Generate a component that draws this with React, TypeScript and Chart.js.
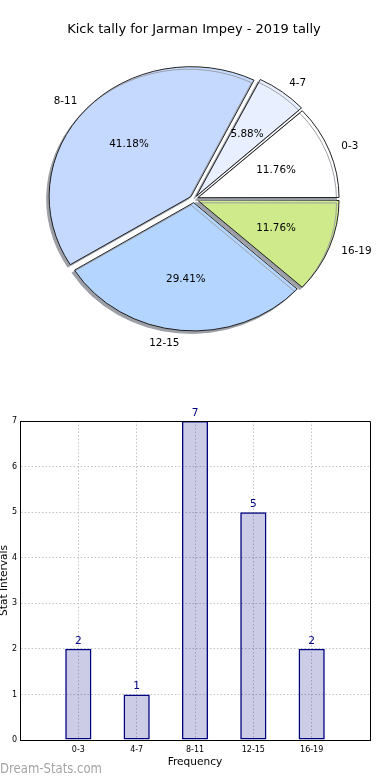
import { useEffect, useRef } from 'react';
import { Chart, registerables } from 'chart.js';

Chart.register(...registerables);

const chartTitle = 'Kick tally for Jarman Impey - 2019 tally';
const categories = ['0-3', '4-7', '8-11', '12-15', '16-19'];
const frequencies = [2, 1, 7, 5, 2];
const sliceColors = ['#ffffff', '#e8f0ff', '#c5d9ff', '#b4d5ff', '#cfea8b'];
const yTickValues = [0, 1, 2, 3, 4, 5, 6, 7];
const xAxisTitle = 'Frequency';
const yAxisTitle = 'Stat Intervals';
const watermark = 'Dream-Stats.com';

const FONT = "'DejaVu Sans', 'Liberation Sans', sans-serif";
const SY = 0.915; // vertical squash of the pie (ellipse like the source)
const EXPLODE = 16; // chart.js arc offset (drawn as offset / 4 px)

// pie drawn clockwise in Chart.js; reverse so it reads counter-clockwise from 3 o'clock
const pieOrder = categories.map((_, i) => categories.length - 1 - i);
const pieLabels = pieOrder.map((i) => categories[i]);
const pieValues = pieOrder.map((i) => frequencies[i]);
const pieColors = pieOrder.map((i) => sliceColors[i]);

const alignPx = (p: number, w = 1) => Math.round(p - w / 2) + w / 2;

const piePlugin = {
  id: 'pieDecor',
  beforeDatasetsDraw(chart: any) {
    const ctx = chart.ctx;
    const el = chart.getDatasetMeta(0).data[0];
    ctx.save();
    ctx.translate(el.x, el.y);
    ctx.scale(1, SY);
    ctx.translate(-el.x, -el.y);
    ctx.shadowColor = '#9c9fa6';
    ctx.shadowOffsetX = -2.5;
    ctx.shadowOffsetY = 2.5;
    ctx.shadowBlur = 0;
  },
  afterDatasetsDraw(chart: any) {
    const ctx = chart.ctx;
    ctx.restore();
    const meta = chart.getDatasetMeta(0);
    const total = pieValues.reduce((a, b) => a + b, 0);
    ctx.save();
    ctx.font = `10.4px ${FONT}`;
    ctx.fillStyle = '#000';
    ctx.textBaseline = 'middle';
    meta.data.forEach((el: any, i: number) => {
      const { x, y, startAngle, endAngle, outerRadius } = el.getProps(
        ['x', 'y', 'startAngle', 'endAngle', 'outerRadius'],
        true
      );
      const mid = (startAngle + endAngle) / 2;
      const off = EXPLODE / 4;
      const c = Math.cos(mid);
      const s = Math.sin(mid);
      const r1 = off + outerRadius * 1.1;
      ctx.textAlign = c > 0 ? 'left' : 'right';
      ctx.fillText(pieLabels[i], x + c * r1, y + s * r1 * SY);
      const r2 = off + outerRadius * 0.6;
      ctx.textAlign = 'center';
      ctx.fillText(((pieValues[i] / total) * 100).toFixed(2) + '%', x + c * r2, y + s * r2 * SY);
    });
    ctx.restore();
  },
};

const barPlugin = {
  id: 'barDecor',
  afterDatasetsDraw(chart: any) {
    const ctx = chart.ctx;
    const { top, right, left, bottom } = chart.chartArea;
    ctx.save();
    ctx.strokeStyle = '#000';
    ctx.lineWidth = 1;
    ctx.beginPath();
    const ty = alignPx(top);
    const rx = alignPx(right);
    ctx.moveTo(alignPx(left), ty);
    ctx.lineTo(rx, ty);
    ctx.lineTo(rx, alignPx(bottom));
    ctx.stroke();
    const meta = chart.getDatasetMeta(0);
    ctx.font = `10.6px ${FONT}`;
    ctx.fillStyle = '#000080';
    ctx.textAlign = 'center';
    ctx.textBaseline = 'alphabetic';
    meta.data.forEach((el: any, i: number) => {
      ctx.fillText(String(frequencies[i]), el.x, el.y - 5);
    });
    ctx.restore();
  },
  afterDraw(chart: any) {
    const ctx = chart.ctx;
    ctx.save();
    ctx.font = `14.5px ${FONT}`;
    ctx.fillStyle = '#a4a4a4';
    ctx.textAlign = 'left';
    ctx.textBaseline = 'alphabetic';
    const w = ctx.measureText(watermark).width;
    ctx.translate(0, 383);
    ctx.scale(102 / w, 1);
    ctx.fillText(watermark, 0, 0);
    ctx.restore();
  },
};

const gridColor = '#c4c4c4';
const gridDash = [1.5, 2];

export default function App() {
  const pieRef = useRef<HTMLCanvasElement>(null);
  const barRef = useRef<HTMLCanvasElement>(null);

  useEffect(() => {
    const pie = new Chart(pieRef.current as HTMLCanvasElement, {
      type: 'pie',
      data: {
        labels: pieLabels,
        datasets: [
          {
            data: pieValues,
            backgroundColor: pieColors,
            borderColor: '#1a1a1a',
            borderWidth: 1,
            borderJoinStyle: 'miter',
            offset: EXPLODE,
            hoverOffset: EXPLODE,
            clip: false,
          } as any,
        ],
      },
      options: {
        animation: false,
        responsive: false,
        events: [],
        rotation: 90,
        layout: { padding: { left: 45.5, right: 47.5, top: 0, bottom: 42.5 } },
        plugins: {
          legend: { display: false },
          tooltip: { enabled: false },
          title: {
            display: true,
            text: chartTitle,
            color: '#000',
            font: { family: FONT, size: 13, weight: 'normal' },
            padding: { top: 22.2, bottom: 12.7 },
          },
        },
      } as any,
      plugins: [piePlugin],
    });

    const bar = new Chart(barRef.current as HTMLCanvasElement, {
      type: 'bar',
      data: {
        datasets: [
          {
            data: categories.map((_, i) => ({ x: i, y: frequencies[i] })),
            backgroundColor: 'rgba(0,0,128,0.2)',
            borderColor: '#000080',
            borderWidth: 1.5,
            borderSkipped: false,
            barPercentage: 0.45,
            categoryPercentage: 1,
          } as any,
        ],
      },
      options: {
        animation: false,
        responsive: false,
        events: [],
        layout: { padding: { left: 0, right: 20, top: 31, bottom: 0 } },
        plugins: { legend: { display: false }, tooltip: { enabled: false }, title: { display: false } },
        scales: {
          x: {
            type: 'linear',
            min: -1,
            max: 5,
            offset: false,
            afterBuildTicks: (scale: any) => {
              scale.ticks = categories.map((_, i) => ({ value: i }));
            },
            afterFit: (scale: any) => {
              scale.height = 40;
            },
            ticks: {
              autoSkip: false,
              maxRotation: 0,
              padding: 5,
              color: '#000',
              font: { family: FONT, size: 8 },
              callback: (v: any) => categories[v as number] ?? '',
            },
            grid: { color: gridColor, lineWidth: 1, drawTicks: false, offset: false },
            border: { display: true, color: '#000', width: 1, dash: gridDash },
            title: {
              display: true,
              text: xAxisTitle,
              color: '#000',
              font: { family: FONT, size: 10.6 },
              padding: { top: 0, bottom: 11.6 },
            },
          },
          y: {
            type: 'linear',
            min: 0,
            max: 7,
            afterBuildTicks: (scale: any) => {
              scale.ticks = yTickValues.map((v) => ({ value: v }));
            },
            afterFit: (scale: any) => {
              scale.width = 20;
            },
            ticks: {
              padding: 3,
              color: '#000',
              font: { family: FONT, size: 8 },
              callback: (v: any) => String(v),
            },
            grid: { color: gridColor, lineWidth: 1, drawTicks: false },
            border: { display: true, color: '#000', width: 1, dash: gridDash },
            title: {
              display: true,
              text: yAxisTitle,
              color: '#000',
              font: { family: FONT, size: 10.6 },
              padding: { top: -2.5, bottom: 0 },
            },
          },
        },
      } as any,
      plugins: [barPlugin],
    });

    return () => {
      pie.destroy();
      bar.destroy();
    };
  }, []);

  return (
    <div style={{ position: 'fixed', left: 0, top: 0, width: 390, height: 780, background: '#fff' }}>
      <canvas
        ref={pieRef}
        width={390}
        height={390}
        style={{ position: 'absolute', left: 0, top: 0, width: 390, height: 390 }}
      />
      <canvas
        ref={barRef}
        width={390}
        height={390}
        style={{ position: 'absolute', left: 0, top: 390, width: 390, height: 390 }}
      />
    </div>
  );
}
